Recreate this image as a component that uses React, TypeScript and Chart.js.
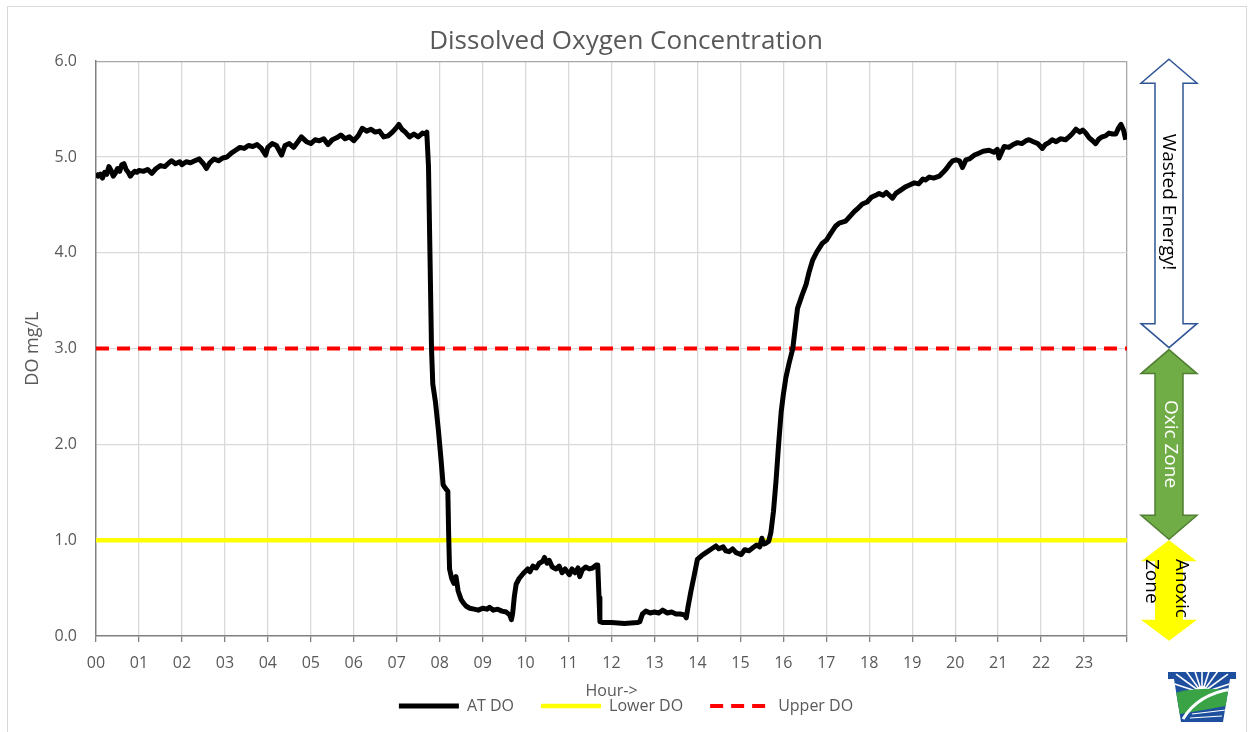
import React, { useEffect, useRef } from "react";
import { Chart, registerables } from "chart.js";

Chart.register(...registerables);

const FONT = '"Open Sans", "Noto Sans", sans-serif';

const chartTitle = "Dissolved Oxygen Concentration";
const xAxisTitle = "Hour->";
const yAxisTitle = "DO mg/L";
const hourLabels = [
  "00", "01", "02", "03", "04", "05", "06", "07", "08", "09", "10", "11",
  "12", "13", "14", "15", "16", "17", "18", "19", "20", "21", "22", "23",
];
const seriesNames = ["AT DO", "Lower DO", "Upper DO"];

// AT DO measured series (hour, mg/L)
const atHours = [
  0.0, 0.05, 0.1, 0.15, 0.2, 0.25, 0.3, 0.35, 0.4, 0.45, 0.5, 0.55, 0.6, 0.65, 0.7, 0.75, 0.8, 0.85, 0.9, 0.95,
  1.0, 1.1, 1.2, 1.3, 1.4, 1.5, 1.6, 1.7, 1.76, 1.85, 1.95, 2.0, 2.1, 2.2, 2.3, 2.4, 2.5, 2.57, 2.65, 2.75,
  2.85, 2.95, 3.05, 3.15, 3.25, 3.35, 3.45, 3.55, 3.65, 3.75, 3.85, 3.95, 4.0, 4.1, 4.2, 4.32, 4.4, 4.5, 4.6, 4.7,
  4.78, 4.9, 5.0, 5.1, 5.2, 5.3, 5.4, 5.5, 5.6, 5.7, 5.8, 5.9, 6.0, 6.1, 6.2, 6.3, 6.4, 6.5, 6.6, 6.7,
  6.8, 6.9, 7.0, 7.05, 7.12, 7.2, 7.3, 7.4, 7.5, 7.6, 7.66, 7.7, 7.74, 7.77, 7.81, 7.84, 7.9, 7.97, 8.03, 8.08,
  8.12, 8.19, 8.21, 8.23, 8.28, 8.33, 8.38, 8.43, 8.5, 8.56, 8.62, 8.7, 8.8, 8.9, 9.0, 9.1, 9.16, 9.25, 9.35, 9.45,
  9.55, 9.63, 9.67, 9.7, 9.74, 9.78, 9.85, 9.94, 10.05, 10.1, 10.17, 10.25, 10.32, 10.4, 10.44, 10.5, 10.55, 10.62, 10.71, 10.78,
  10.85, 10.92, 11.02, 11.08, 11.15, 11.22, 11.26, 11.32, 11.4, 11.48, 11.56, 11.64, 11.68, 11.71, 11.73, 11.8, 12.0, 12.3, 12.6, 12.66,
  12.72, 12.8, 12.9, 13.0, 13.1, 13.19, 13.3, 13.4, 13.5, 13.6, 13.7, 13.74, 13.78, 13.85, 13.92, 14.0, 14.1, 14.2, 14.3, 14.43,
  14.5, 14.6, 14.66, 14.74, 14.82, 14.9, 15.02, 15.1, 15.2, 15.29, 15.38, 15.45, 15.5, 15.54, 15.6, 15.66, 15.71, 15.77, 15.83, 15.89,
  15.95, 16.0, 16.06, 16.14, 16.22, 16.33, 16.43, 16.53, 16.6, 16.68, 16.78, 16.91, 17.0, 17.1, 17.22, 17.3, 17.45, 17.55, 17.65, 17.75,
  17.84, 17.95, 18.05, 18.15, 18.23, 18.32, 18.4, 18.54, 18.62, 18.75, 18.85, 18.95, 19.05, 19.15, 19.25, 19.31, 19.4, 19.5, 19.63, 19.72,
  19.8, 19.88, 19.94, 20.02, 20.1, 20.17, 20.25, 20.33, 20.45, 20.55, 20.65, 20.79, 20.9, 20.98, 21.02, 21.08, 21.14, 21.25, 21.35, 21.45,
  21.55, 21.65, 21.72, 21.82, 21.92, 22.03, 22.1, 22.18, 22.26, 22.35, 22.45, 22.57, 22.65, 22.72, 22.81, 22.9, 22.97, 23.04, 23.12, 23.2,
  23.27, 23.35, 23.42, 23.5, 23.58, 23.66, 23.74, 23.8, 23.86, 23.92, 23.97,
];
const atValues = [
  4.83, 4.8, 4.82, 4.78, 4.84, 4.82, 4.9, 4.86, 4.8, 4.83, 4.88, 4.85, 4.92, 4.93, 4.87, 4.84, 4.8, 4.83, 4.85, 4.84,
  4.86, 4.85, 4.87, 4.83, 4.88, 4.91, 4.9, 4.94, 4.96, 4.93, 4.95, 4.92, 4.95, 4.94, 4.96, 4.98, 4.93, 4.88, 4.94, 4.98,
  4.96, 4.99, 5.0, 5.04, 5.07, 5.1, 5.09, 5.12, 5.11, 5.13, 5.09, 5.02, 5.1, 5.14, 5.12, 5.02, 5.12, 5.14, 5.1, 5.16,
  5.21, 5.16, 5.14, 5.18, 5.17, 5.19, 5.13, 5.18, 5.2, 5.23, 5.19, 5.21, 5.17, 5.22, 5.3, 5.27, 5.29, 5.26, 5.27, 5.21,
  5.22, 5.26, 5.31, 5.34, 5.29, 5.26, 5.21, 5.24, 5.21, 5.25, 5.24, 5.26, 4.9, 4.1, 3.0, 2.63, 2.45, 2.15, 1.85, 1.58,
  1.55, 1.51, 1.05, 0.7, 0.6, 0.55, 0.62, 0.47, 0.38, 0.34, 0.31, 0.29, 0.28, 0.27, 0.29, 0.28, 0.3, 0.27, 0.28, 0.26,
  0.25, 0.22, 0.17, 0.24, 0.42, 0.54, 0.6, 0.65, 0.7, 0.67, 0.73, 0.71, 0.76, 0.78, 0.82, 0.76, 0.79, 0.72, 0.7, 0.73,
  0.66, 0.7, 0.64, 0.7, 0.66, 0.71, 0.62, 0.69, 0.72, 0.7, 0.71, 0.74, 0.74, 0.4, 0.15, 0.14, 0.14, 0.13, 0.14, 0.15,
  0.23, 0.26, 0.24, 0.25, 0.24, 0.27, 0.24, 0.25, 0.23, 0.23, 0.22, 0.19, 0.3, 0.47, 0.62, 0.8, 0.84, 0.87, 0.9, 0.94,
  0.91, 0.93, 0.89, 0.88, 0.91, 0.87, 0.85, 0.9, 0.89, 0.92, 0.95, 0.93, 1.02, 0.96, 0.97, 0.99, 1.08, 1.3, 1.62, 2.0,
  2.34, 2.52, 2.7, 2.86, 3.0, 3.42, 3.55, 3.67, 3.8, 3.92, 4.01, 4.1, 4.13, 4.2, 4.28, 4.31, 4.33, 4.38, 4.43, 4.47,
  4.51, 4.53, 4.58, 4.6, 4.62, 4.6, 4.63, 4.57, 4.62, 4.66, 4.69, 4.71, 4.73, 4.72, 4.77, 4.76, 4.79, 4.78, 4.8, 4.84,
  4.88, 4.93, 4.96, 4.97, 4.96, 4.89, 4.97, 4.98, 5.02, 5.04, 5.06, 5.07, 5.05, 5.08, 4.99, 5.05, 5.11, 5.1, 5.13, 5.15,
  5.14, 5.17, 5.18, 5.16, 5.14, 5.09, 5.13, 5.15, 5.18, 5.16, 5.19, 5.18, 5.21, 5.24, 5.29, 5.26, 5.28, 5.25, 5.2, 5.17,
  5.14, 5.19, 5.21, 5.22, 5.25, 5.24, 5.24, 5.3, 5.34, 5.28, 5.18,
];

// Reference limits
const limitHours = [0, 24];
const lowerDO = [1.0, 1.0];
const upperDO = [3.0, 3.0];

// Zone annotations on the right (DO value ranges)
const zoneLabels = [["Wasted Energy!"], ["Oxic Zone"], ["Anoxic", "Zone"]];
const zoneTop = [6.02, 2.99, 1.0];
const zoneBottom = [3.01, 1.01, -0.05];

function arrowPath(ctx: CanvasRenderingContext2D, cx: number, y0: number, y3: number, head: number, hw: number, sw: number) {
  const y1 = y0 + head;
  const y2 = y3 - head;
  ctx.beginPath();
  ctx.moveTo(cx, y0);
  ctx.lineTo(cx + hw, y1);
  ctx.lineTo(cx + sw, y1);
  ctx.lineTo(cx + sw, y2);
  ctx.lineTo(cx + hw, y2);
  ctx.lineTo(cx, y3);
  ctx.lineTo(cx - hw, y2);
  ctx.lineTo(cx - sw, y2);
  ctx.lineTo(cx - sw, y1);
  ctx.lineTo(cx - hw, y1);
  ctx.closePath();
}

function drawLogo(ctx: CanvasRenderingContext2D) {
  const L = 1168, R = 1236, T = 672, B = 722;
  ctx.save();
  ctx.beginPath();
  ctx.moveTo(L, T);
  ctx.lineTo(R, T);
  ctx.lineTo(R, T + 7);
  ctx.lineTo(R - 6, T + 7);
  ctx.lineTo(R - 13, B);
  ctx.lineTo(L + 13, B);
  ctx.lineTo(L + 6, T + 7);
  ctx.lineTo(L, T + 7);
  ctx.closePath();
  ctx.fillStyle = "#1d4f9e";
  ctx.fill();
  ctx.clip();
  const sx = 1202, sy = 693;
  ctx.strokeStyle = "#ffffff";
  ctx.lineWidth = 1.6;
  for (let i = 1; i < 10; i++) {
    const a = Math.PI + (i * Math.PI) / 10;
    ctx.beginPath();
    ctx.moveTo(sx, sy);
    ctx.lineTo(sx + Math.cos(a) * 32, sy + Math.sin(a) * 32);
    ctx.stroke();
  }
  ctx.fillStyle = "#ffffff";
  ctx.beginPath();
  ctx.arc(sx, sy, 7, Math.PI, 0);
  ctx.fill();
  ctx.fillStyle = "#3aa345";
  ctx.beginPath();
  ctx.moveTo(L, 695);
  ctx.quadraticCurveTo(1200, 684, R, 692);
  ctx.lineTo(R, 704);
  ctx.quadraticCurveTo(1205, 710, L, 716);
  ctx.closePath();
  ctx.fill();
  ctx.strokeStyle = "#ffffff";
  ctx.lineWidth = 3;
  ctx.beginPath();
  ctx.moveTo(1183, 719);
  ctx.quadraticCurveTo(1198, 694, 1232, 689);
  ctx.stroke();
  ctx.lineWidth = 1.2;
  ctx.beginPath();
  ctx.moveTo(1192, 714);
  ctx.lineTo(1226, 710);
  ctx.moveTo(1190, 718);
  ctx.lineTo(1222, 716);
  ctx.stroke();
  ctx.restore();
}

const decorPlugin = {
  id: "decor",
  beforeDraw(chart: any) {
    const { ctx, width, height } = chart;
    ctx.save();
    ctx.fillStyle = "#ffffff";
    ctx.fillRect(0, 0, width, height);
    ctx.strokeStyle = "#d9d9d9";
    ctx.lineWidth = 1;
    ctx.strokeRect(7.5, 6.5, width - 13, height - 2);
    ctx.restore();
  },
  afterDraw(chart: any) {
    const { ctx } = chart;
    const y = chart.scales.y;
    const cx = 1169;
    const fills = ["#ffffff", "#70ad47", "#ffff00"];
    const strokes = ["#2f5597", "#507e32", null];
    const textColors = ["#000000", "#ffffff", "#000000"];
    ctx.save();
    for (let i = 0; i < zoneLabels.length; i++) {
      const top = y.getPixelForValue(zoneTop[i]);
      const bottom = y.getPixelForValue(zoneBottom[i]);
      arrowPath(ctx, cx, top, bottom, i === 2 ? 21 : 24, 28, 14);
      ctx.fillStyle = fills[i];
      ctx.fill();
      if (strokes[i]) {
        ctx.strokeStyle = strokes[i] as string;
        ctx.lineWidth = 1.5;
        ctx.stroke();
      }
    }
    ctx.font = `19px ${FONT}`;
    ctx.textBaseline = "middle";
    // Wasted Energy!
    ctx.save();
    ctx.translate(cx - 1, 202);
    ctx.rotate(Math.PI / 2);
    ctx.textAlign = "center";
    ctx.fillStyle = textColors[0];
    ctx.fillText(zoneLabels[0][0], 0, 0);
    ctx.restore();
    // Oxic Zone
    ctx.save();
    ctx.translate(cx + 1, 444);
    ctx.rotate(Math.PI / 2);
    ctx.textAlign = "center";
    ctx.fillStyle = textColors[1];
    ctx.fillText(zoneLabels[1][0], 0, 0);
    ctx.restore();
    // Anoxic Zone (two lines)
    ctx.save();
    ctx.translate(cx, 559);
    ctx.rotate(Math.PI / 2);
    ctx.textAlign = "left";
    ctx.fillStyle = textColors[2];
    ctx.fillText(zoneLabels[2][0], 0, -12);
    ctx.fillText(zoneLabels[2][1], 0, 18);
    ctx.restore();
    ctx.restore();
    drawLogo(ctx);
  },
};

export default function App() {
  const canvasRef = useRef<HTMLCanvasElement | null>(null);

  useEffect(() => {
    if (!canvasRef.current) return;
    const atData = atHours.map((h, i) => ({ x: h, y: atValues[i] }));
    const lowerData = limitHours.map((h, i) => ({ x: h, y: lowerDO[i] }));
    const upperData = limitHours.map((h, i) => ({ x: h, y: upperDO[i] }));

    const chart = new Chart(canvasRef.current, {
      type: "line",
      data: {
        datasets: [
          {
            label: seriesNames[0],
            data: atData,
            borderColor: "#000000",
            backgroundColor: "#000000",
            borderWidth: 5,
            pointRadius: 0,
            tension: 0,
            borderJoinStyle: "round",
            yAxisID: "y",
          },
          {
            label: seriesNames[1],
            data: lowerData,
            borderColor: "#ffff00",
            backgroundColor: "#ffff00",
            borderWidth: 4.5,
            pointRadius: 0,
            yAxisID: "y",
          },
          {
            label: seriesNames[2],
            data: upperData,
            borderColor: "#ff0000",
            backgroundColor: "#ff0000",
            borderWidth: 4,
            borderDash: [13, 8],
            pointRadius: 0,
            yAxisID: "y",
          },
        ],
      },
      options: {
        animation: false,
        responsive: false,
        layout: { padding: { top: 0, left: 0, right: 0, bottom: 8 } },
        plugins: {
          title: {
            display: true,
            text: chartTitle,
            color: "#595959",
            font: { family: FONT, size: 26, weight: "normal" },
            padding: { top: 26, bottom: 4 },
          },
          legend: {
            position: "bottom",
            labels: {
              usePointStyle: true,
              pointStyle: "line",
              pointStyleWidth: 60,
              padding: 27,
              color: "#595959",
              font: { family: FONT, size: 16 },
              generateLabels: (c: any) => {
                const items = Chart.defaults.plugins.legend.labels.generateLabels(c);
                return items.map((it: any) => {
                  const ds = c.data.datasets[it.datasetIndex];
                  return {
                    ...it,
                    strokeStyle: ds.borderColor,
                    fillStyle: ds.borderColor,
                    lineWidth: ds.borderWidth,
                    lineDash: ds.borderDash || [],
                    lineCap: "butt",
                  };
                });
              },
            },
          },
          tooltip: { enabled: false },
        },
        scales: {
          x: {
            type: "linear",
            min: 0,
            max: 24,
            afterFit: (s: any) => {
              s.height = 35;
            },
            ticks: {
              stepSize: 1,
              autoSkip: false,
              maxRotation: 0,
              padding: 12,
              color: "#595959",
              font: { family: FONT, size: 16 },
              callback: (v: any) => hourLabels[Math.round(Number(v))] ?? "",
            },
            grid: {
              color: (c: any) => {
                const v = c.tick ? c.tick.value : -1;
                if (v === 0) return "rgba(0,0,0,0)";
                if (v === 24) return "#a6a6a6";
                return "#d9d9d9";
              },
              lineWidth: 1.3,
              drawTicks: true,
              tickLength: 6,
              tickColor: "#808080",
            },
            border: { color: "#808080", width: 1.5 },
            title: {
              display: true,
              text: xAxisTitle,
              color: "#595959",
              font: { family: FONT, size: 16 },
              padding: { top: 0, bottom: -29.6 },
            },
          },
          y: {
            min: 0,
            max: 6,
            afterFit: (s: any) => {
              s.width = 96;
            },
            ticks: {
              stepSize: 1,
              padding: 19,
              color: "#595959",
              font: { family: FONT, size: 16 },
              callback: (v: any) => Number(v).toFixed(1),
            },
            grid: {
              color: (c: any) => {
                const v = c.tick ? c.tick.value : -1;
                if (v === 0) return "rgba(0,0,0,0)";
                if (v === 6) return "#a6a6a6";
                return "#d9d9d9";
              },
              lineWidth: 1.3,
              drawTicks: false,
            },
            border: { color: "#808080", width: 1.5 },
            title: {
              display: true,
              text: yAxisTitle,
              color: "#595959",
              font: { family: FONT, size: 18 },
              padding: { top: 22, bottom: 0 },
            },
          },
          y2: {
            position: "right",
            display: true,
            afterFit: (s: any) => {
              s.width = 125;
            },
            ticks: { display: false },
            grid: { display: false, drawTicks: false },
            border: { display: false },
          },
        },
      },
      plugins: [decorPlugin],
    } as any);

    return () => chart.destroy();
  }, []);

  return (
    <div style={{ position: "fixed", left: 0, top: 0, width: 1252, height: 732, background: "#ffffff" }}>
      <canvas ref={canvasRef} width={1252} height={732} style={{ display: "block", width: 1252, height: 732 }} />
    </div>
  );
}
